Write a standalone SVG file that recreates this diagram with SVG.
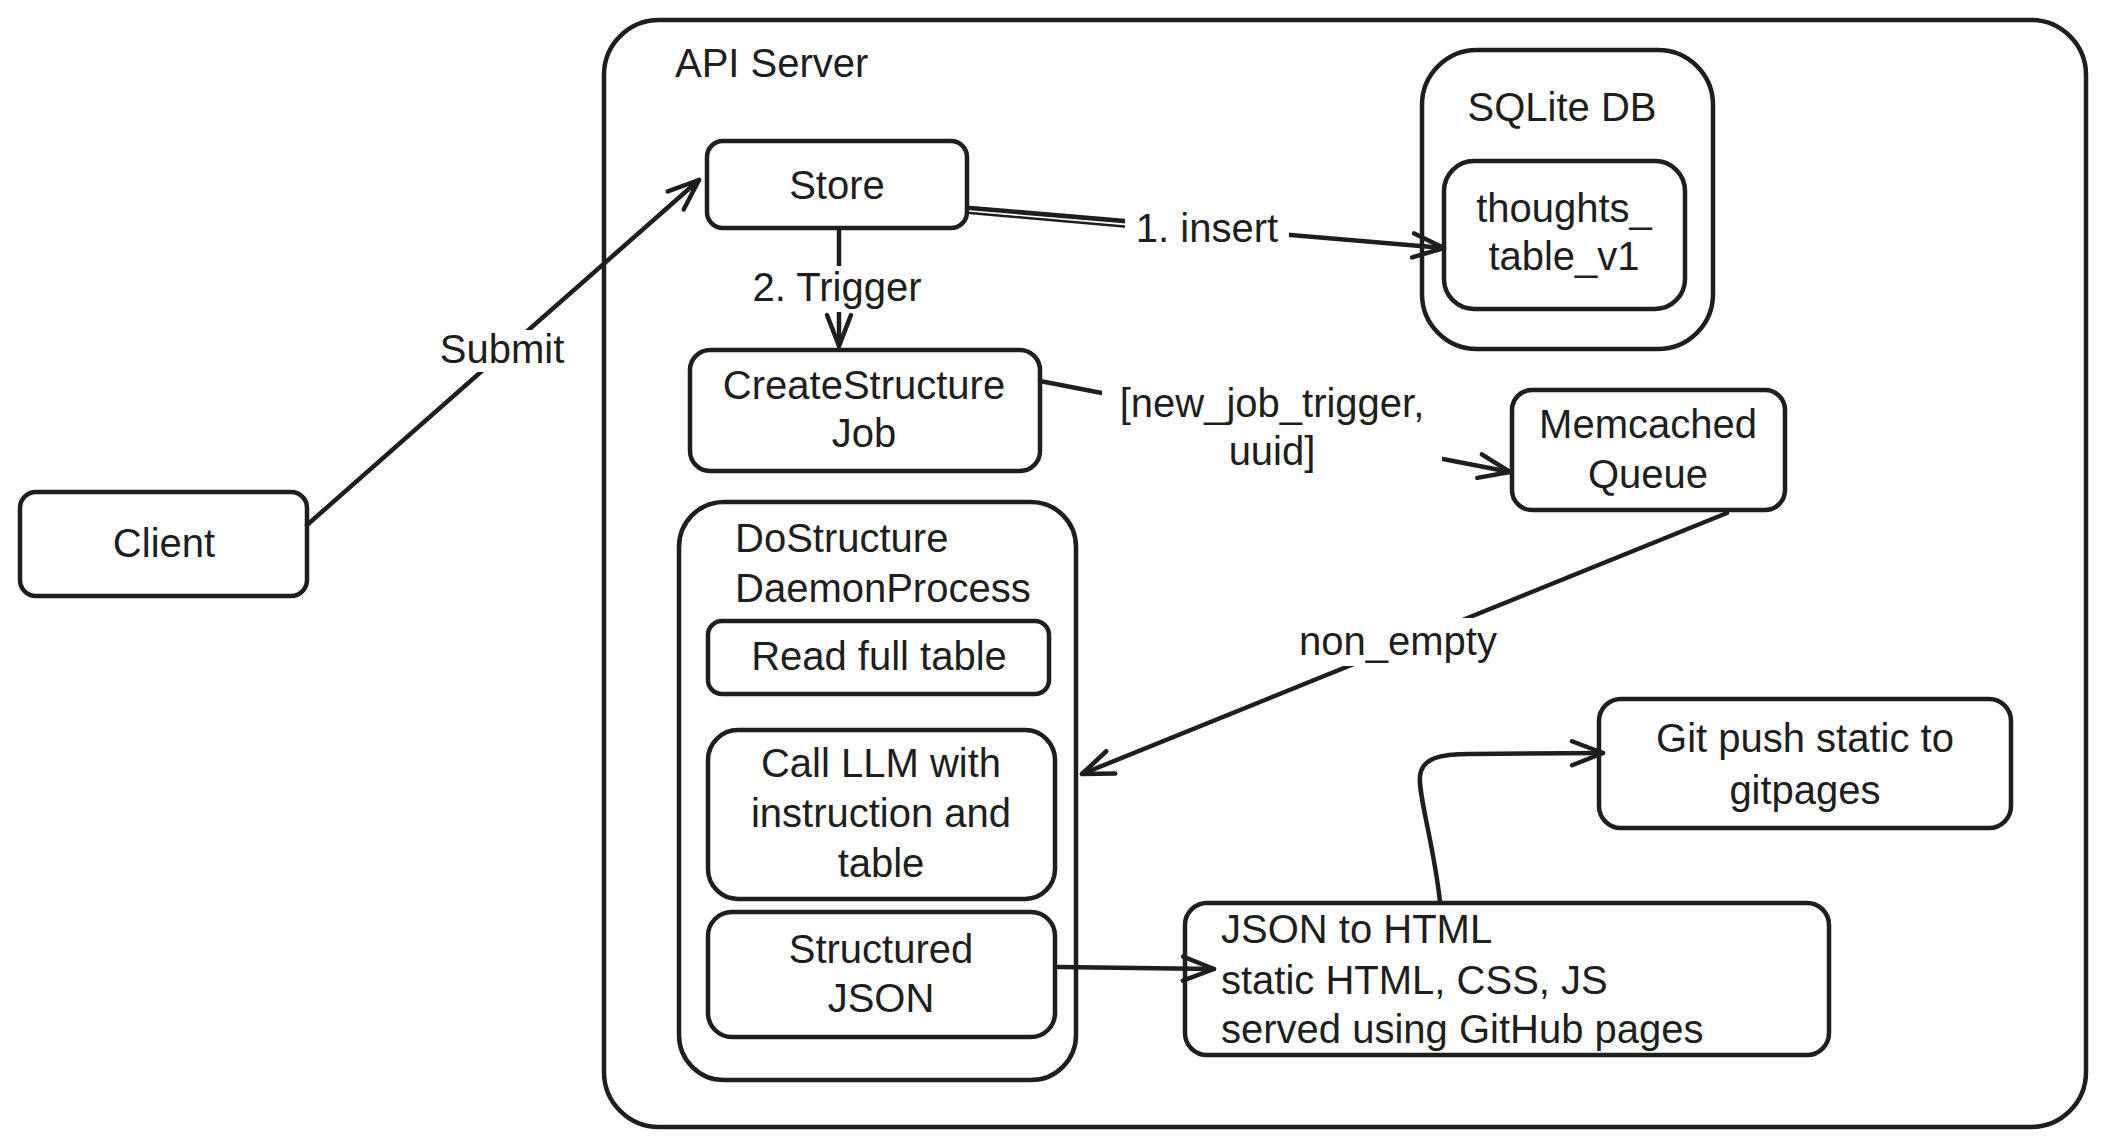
<svg xmlns="http://www.w3.org/2000/svg" width="2104" height="1148" viewBox="0 0 2104 1148">
<style>
.box{fill:none;stroke:#1e1e1e;stroke-width:4.5;stroke-linejoin:round}
.edge{fill:none;stroke:#1e1e1e;stroke-width:4.5;stroke-linecap:round;stroke-linejoin:round}
.t{font-family:"Liberation Sans",Arial,sans-serif;font-size:40px;fill:#1e1e1e;text-anchor:middle}
.tl{font-family:"Liberation Sans",Arial,sans-serif;font-size:40px;fill:#1e1e1e;text-anchor:start}
.bg{fill:#ffffff;stroke:none}
</style>
<defs>
<marker id="ah" viewBox="0 0 40 40" refX="37" refY="20" markerWidth="40" markerHeight="40" orient="auto" markerUnits="userSpaceOnUse">
<path d="M6,8 L37,20 L6,32" fill="none" stroke="#1e1e1e" stroke-width="4.5" stroke-linecap="round" stroke-linejoin="round"/>
</marker>
</defs>
<rect width="2104" height="1148" fill="#ffffff"/>

<g id="api-server">
<rect class="box" x="604" y="20" width="1482" height="1107" rx="55"/>
<text class="tl" x="675" y="77">API Server</text>
</g>

<g id="client">
<rect class="box" x="20" y="492" width="287" height="104" rx="16"/>
<text class="t" x="164" y="557">Client</text>
</g>

<g id="store">
<rect class="box" x="707" y="141" width="260" height="87" rx="16"/>
<text class="t" x="837" y="199">Store</text>
</g>

<g id="sqlite-db">
<rect class="box" x="1422" y="50" width="291" height="299" rx="55"/>
<text class="t" x="1562" y="121">SQLite DB</text>
</g>

<g id="thoughts-table">
<rect class="box" x="1444" y="161" width="241" height="148" rx="30"/>
<text class="t" x="1564" y="222">thoughts_</text>
<text class="t" x="1564" y="270">table_v1</text>
</g>

<g id="create-structure-job">
<rect class="box" x="690" y="350" width="350" height="121" rx="20"/>
<text class="t" x="864" y="399">CreateStructure</text>
<text class="t" x="864" y="447">Job</text>
</g>

<g id="memcached-queue">
<rect class="box" x="1512" y="390" width="273" height="120" rx="20"/>
<text class="t" x="1648" y="438">Memcached</text>
<text class="t" x="1648" y="488">Queue</text>
</g>

<g id="do-structure-daemon">
<rect class="box" x="679" y="502" width="397" height="578" rx="45"/>
<text class="tl" x="735" y="552">DoStructure</text>
<text class="tl" x="735" y="602">DaemonProcess</text>
</g>

<g id="read-full-table">
<rect class="box" x="708" y="621" width="341" height="73" rx="14"/>
<text class="t" x="879" y="670">Read full table</text>
</g>

<g id="call-llm">
<rect class="box" x="708" y="730" width="347" height="169" rx="30"/>
<text class="t" x="881" y="777">Call LLM with</text>
<text class="t" x="881" y="827">instruction and</text>
<text class="t" x="881" y="877">table</text>
</g>

<g id="structured-json">
<rect class="box" x="708" y="912" width="347" height="125" rx="24"/>
<text class="t" x="881" y="963">Structured</text>
<text class="t" x="881" y="1012">JSON</text>
</g>

<g id="json-to-html">
<rect class="box" x="1185" y="903" width="644" height="152" rx="22"/>
<text class="tl" x="1221" y="943">JSON to HTML</text>
<text class="tl" x="1221" y="994">static HTML, CSS, JS</text>
<text class="tl" x="1221" y="1043">served using GitHub pages</text>
</g>

<g id="git-push">
<rect class="box" x="1599" y="699" width="412" height="129" rx="22"/>
<text class="t" x="1805" y="752">Git push static to</text>
<text class="t" x="1805" y="804">gitpages</text>
</g>

<g id="connectors">
<path class="edge" d="M307,525 L699,180" marker-end="url(#ah)"/>
<rect class="bg" x="436" y="330" width="132" height="42"/>
<text class="t" x="502" y="363">Submit</text>

<path class="edge" d="M970,208 L1444,248" marker-end="url(#ah)"/>
<path class="edge" d="M970,213 L1130,227" style="stroke-width:2.5"/>
<rect class="bg" x="1125" y="210" width="164" height="40"/>
<text class="t" x="1207" y="242">1. insert</text>

<path class="edge" d="M839,230 L839,346" marker-end="url(#ah)"/>
<rect class="bg" x="735" y="266" width="206" height="46"/>
<text class="t" x="837" y="301">2. Trigger</text>

<path class="edge" d="M1040,381 L1510,472" marker-end="url(#ah)"/>
<rect class="bg" x="1102" y="378" width="340" height="96"/>
<text class="t" x="1272" y="417">[new_job_trigger,</text>
<text class="t" x="1272" y="465">uuid]</text>

<path class="edge" d="M1727,513 L1082,774" marker-end="url(#ah)"/>
<rect class="bg" x="1295" y="618" width="206" height="48"/>
<text class="t" x="1398" y="655">non_empty</text>

<path class="edge" d="M1058,967 L1214,969" marker-end="url(#ah)"/>

<path class="edge" d="M1440,902 C1434,845 1418,795 1420,776 C1422,758 1440,754 1470,754 L1603,753" marker-end="url(#ah)"/>
</g>
</svg>
